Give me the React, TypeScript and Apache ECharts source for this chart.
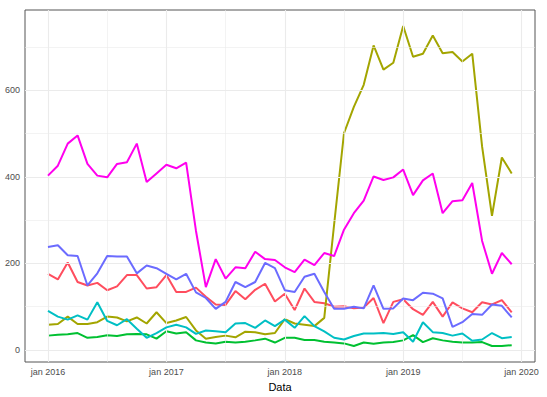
import React, { useEffect, useRef } from "react";
import * as echarts from "echarts";

const months: string[] = [];
for (let y = 2016; y <= 2019; y++) for (let m = 1; m <= 12; m++) months.push(`${y}-${String(m).padStart(2, "0")}`);

const tickLabels = ["jan 2016", "jan 2017", "jan 2018", "jan 2019", "jan 2020"];
const tickPositions = [0, 12, 24, 36, 48];
const yTicks = [0, 200, 400, 600];

const red = [176, 163, 202, 157, 149, 155, 138, 147, 173, 173, 142, 145, 173, 134, 134, 144, 123, 105, 104, 136, 117, 139, 153, 112, 130, 92, 142, 111, 108, 100, 101, 96, 98, 120, 62, 111, 117, 94, 81, 111, 77, 110, 96, 87, 110, 105, 115, 87];
const olive = [58, 60, 77, 60, 60, 64, 77, 75, 66, 75, 61, 87, 62, 68, 76, 45, 26, 30, 33, 29, 42, 41, 36, 39, 71, 61, 58, 55, 74, 290, 501, 562, 613, 704, 648, 664, 749, 678, 685, 727, 686, 689, 667, 685, 470, 310, 445, 408];
const green = [33, 35, 36, 39, 28, 30, 34, 32, 36, 37, 36, 26, 43, 38, 41, 22, 17, 15, 19, 17, 19, 22, 26, 17, 28, 28, 23, 23, 19, 17, 15, 9, 17, 14, 17, 18, 22, 34, 18, 27, 22, 19, 17, 17, 18, 9, 9, 11];
const cyan = [90, 77, 70, 80, 70, 110, 67, 57, 71, 49, 28, 39, 52, 58, 52, 37, 45, 43, 41, 61, 62, 51, 68, 55, 70, 51, 78, 55, 43, 28, 24, 32, 38, 38, 39, 37, 41, 19, 64, 41, 39, 33, 38, 21, 24, 39, 27, 30];
const blue = [238, 242, 219, 217, 149, 177, 217, 216, 216, 177, 195, 189, 176, 163, 176, 133, 120, 95, 111, 157, 145, 157, 201, 189, 138, 134, 169, 176, 134, 95, 95, 100, 96, 149, 95, 96, 119, 115, 132, 130, 119, 53, 64, 83, 81, 105, 102, 75];
const magenta = [403, 426, 477, 496, 430, 403, 399, 430, 434, 477, 388, 408, 428, 420, 433, 275, 145, 210, 165, 191, 189, 227, 210, 208, 191, 180, 209, 196, 224, 217, 278, 316, 345, 401, 393, 399, 417, 358, 392, 408, 316, 344, 346, 386, 252, 176, 224, 198];

const seriesDefs = [
  { name: "red", data: red, color: "#FF4D5E" },
  { name: "olive", data: olive, color: "#A3A500" },
  { name: "green", data: green, color: "#00C031" },
  { name: "cyan", data: cyan, color: "#00BFC4" },
  { name: "blue", data: blue, color: "#6B6BFF" },
  { name: "magenta", data: magenta, color: "#FF00EE" },
];

export default function App() {
  const ref = useRef<HTMLDivElement>(null);
  useEffect(() => {
    if (!ref.current) return;
    const chart = echarts.init(ref.current, undefined, { renderer: "svg" });
    const vGrid = [-0.0, 6, 12, 18, 24, 30, 36, 42, 48].map((v) => ({ xAxis: v }));
    const hGrid = [0, 100, 200, 300, 400, 500, 600, 700].map((v) => ({ yAxis: v }));
    const gridData = [...vGrid, ...hGrid].map((d: any) => {
      const v = d.xAxis !== undefined ? d.xAxis : d.yAxis;
      const minor = d.xAxis !== undefined ? v % 12 !== 0 : v % 200 !== 0;
      return { ...d, lineStyle: { color: "#EBEBEB", width: minor ? 0.6 : 1.1, type: "solid" } };
    });
    chart.setOption({
      animation: false,
      backgroundColor: "#ffffff",
      grid: { left: 25, right: 12, top: 10, bottom: 29, show: true, borderColor: "#555555", borderWidth: 1, backgroundColor: "transparent" },
      xAxis: {
        type: "value",
        min: -2.33,
        max: 49.36,
        name: "Data",
        nameLocation: "middle",
        nameGap: 19,
        nameTextStyle: { fontSize: 11, color: "#000", fontFamily: "Liberation Sans, Arial, sans-serif" },
        axisLine: { show: false },
        splitLine: { show: false },
        axisTick: { show: true, length: 3, lineStyle: { color: "#333" }, customValues: tickPositions },
        axisLabel: {
          customValues: tickPositions,
          formatter: (v: number) => tickLabels[tickPositions.indexOf(Math.round(v))] ?? "",
          fontSize: 9,
          color: "#4D4D4D",
          margin: 5,
          fontFamily: "Liberation Sans, Arial, sans-serif",
        },
      },
      yAxis: {
        type: "value",
        min: -28,
        max: 786,
        axisLine: { show: false },
        splitLine: { show: false },
        axisTick: { show: true, length: 3, lineStyle: { color: "#333" }, customValues: yTicks },
        axisLabel: {
          customValues: yTicks,
          fontSize: 9,
          color: "#4D4D4D",
          margin: 5,
          fontFamily: "Liberation Sans, Arial, sans-serif",
        },
      },
      series: [
        {
          type: "line",
          data: [],
          z: 1,
          silent: true,
          markLine: { silent: true, symbol: "none", label: { show: false }, data: gridData, animation: false },
        },
        ...seriesDefs.map((s, k) => ({
          name: s.name,
          type: "line",
          z: 2 + k,
          data: s.data.map((v, i) => [i, v]),
          showSymbol: false,
          symbol: "none",
          lineStyle: { color: s.color, width: 2 },
          itemStyle: { color: s.color },
        })),
      ],
    });
    return () => chart.dispose();
  }, []);
  return <div ref={ref} style={{ width: 547, height: 397, position: "absolute", left: 0, top: 0 }} />;
}
